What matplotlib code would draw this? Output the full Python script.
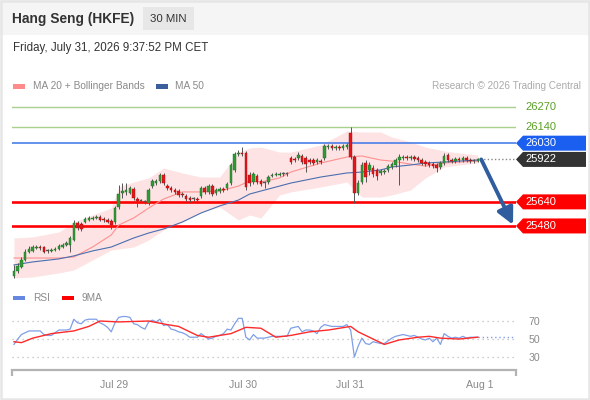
import matplotlib
matplotlib.use('Agg')
import matplotlib.pyplot as plt
import numpy as np
from matplotlib.patches import Rectangle, Polygon
from matplotlib.transforms import IdentityTransform

plt.rcParams['font.family'] = ['Liberation Sans', 'DejaVu Sans']

# ---------------- data ----------------
opens = [25148, 25181, 25208, 25254, 25307, 25314, 25334, 25340, 25340, 25314,
         25314, 25320, 25327, 25340, 25354, 25354, 25387, 25500, 25493, 25507,
         25520, 25527, 25533, 25540, 25527, 25520, 25513, 25507, 25606, 25699,
         25706, 25699, 25726, 25659, 25646, 25639, 25633, 25745, 25765, 25779,
         25818, 25745, 25732, 25719, 25712, 25692, 25679, 25666, 25659, 25659,
         25679, 25732, 25706, 25745, 25699, 25712, 25726, 25732, 25765, 25852,
         25958, 25965, 25965, 25818, 25772, 25812, 25779, 25765, 25772, 25812,
         25818, 25818, 25825, 25825, 25931, 25925, 25931, 25945, 25931, 25918,
         25918, 25905, 25911, 25931, 26004, 26011, 25998, 26004, 25998, 26004,
         26097, 25938, 25699, 25772, 25898, 25852, 25865, 25852, 25832, 25838,
         25852, 25872, 25885, 25918, 25931, 25938, 25931, 25938, 25931, 25918,
         25905, 25898, 25891, 25885, 25872, 25898, 25951, 25918, 25911, 25925,
         25918, 25931, 25918, 25911, 25911]
closes = [25181, 25214, 25254, 25307, 25327, 25340, 25340, 25334, 25307, 25314,
          25320, 25327, 25347, 25354, 25367, 25400, 25500, 25467, 25460, 25527,
          25533, 25533, 25540, 25520, 25520, 25507, 25487, 25599, 25692, 25712,
          25719, 25732, 25666, 25646, 25646, 25639, 25719, 25779, 25779, 25818,
          25765, 25732, 25719, 25706, 25686, 25686, 25659, 25652, 25659, 25652,
          25732, 25706, 25745, 25692, 25719, 25726, 25719, 25759, 25885, 25958,
          25965, 25958, 25739, 25765, 25825, 25772, 25759, 25765, 25805, 25818,
          25825, 25825, 25825, 25825, 25905, 25918, 25951, 25905, 25891, 25905,
          25898, 25918, 25905, 26011, 26011, 25998, 26004, 25998, 26011, 26018,
          25938, 25699, 25765, 25885, 25805, 25885, 25825, 25812, 25845, 25845,
          25878, 25891, 25918, 25938, 25938, 25931, 25938, 25925, 25918, 25898,
          25891, 25885, 25878, 25865, 25898, 25945, 25918, 25911, 25925, 25918,
          25931, 25918, 25911, 25911, 25922]
highs = [25221, 25234, 25274, 25327, 25347, 25354, 25354, 25354, 25347, 25327,
         25334, 25340, 25360, 25367, 25380, 25413, 25520, 25513, 25507, 25540,
         25547, 25547, 25553, 25553, 25540, 25533, 25527, 25613, 25752, 25765,
         25765, 25745, 25739, 25672, 25659, 25652, 25732, 25792, 25792, 25832,
         25832, 25759, 25745, 25732, 25726, 25706, 25692, 25679, 25672, 25672,
         25745, 25745, 25759, 25759, 25732, 25739, 25739, 25772, 25898, 25971,
         25984, 26004, 25978, 25838, 25838, 25825, 25792, 25779, 25818, 25832,
         25838, 25838, 25838, 25838, 25945, 25938, 25971, 25958, 25945, 25931,
         25931, 25931, 25925, 26024, 26024, 26024, 26018, 26018, 26024, 26031,
         26137, 25951, 25785, 25905, 25918, 25905, 25885, 25865, 25858, 25858,
         25891, 25905, 25931, 25958, 25951, 25951, 25951, 25951, 25945, 25931,
         25918, 25911, 25905, 25898, 25911, 25965, 25965, 25931, 25938, 25938,
         25945, 25945, 25931, 25925, 25931]
lows = [25135, 25168, 25201, 25247, 25300, 25307, 25327, 25320, 25300, 25300,
        25307, 25314, 25320, 25334, 25347, 25307, 25380, 25453, 25447, 25500,
        25513, 25520, 25527, 25513, 25507, 25500, 25460, 25493, 25593, 25666,
        25686, 25692, 25652, 25606, 25633, 25626, 25619, 25732, 25752, 25765,
        25752, 25719, 25706, 25692, 25672, 25672, 25646, 25639, 25646, 25633,
        25666, 25692, 25692, 25679, 25686, 25699, 25706, 25719, 25752, 25838,
        25945, 25945, 25719, 25745, 25759, 25759, 25745, 25732, 25759, 25805,
        25812, 25812, 25812, 25812, 25891, 25905, 25918, 25891, 25838, 25891,
        25885, 25891, 25891, 25918, 25991, 25984, 25984, 25984, 25984, 25991,
        25925, 25633, 25686, 25759, 25772, 25818, 25805, 25785, 25818, 25825,
        25838, 25858, 25872, 25752, 25918, 25918, 25918, 25911, 25905, 25885,
        25878, 25872, 25865, 25838, 25858, 25885, 25905, 25898, 25898, 25905,
        25905, 25905, 25898, 25898, 25905]

# indicator readings (sampled at candle indices)
ind_idx = [0, 5, 12, 16, 21, 26, 28, 32, 36, 40, 45, 50, 55, 60, 63, 66, 71, 74,
           82, 89, 93, 98, 101, 106, 110, 115, 119, 124]
ma20 = [25267, 25267, 25267, 25274, 25340, 25420, 25486, 25533, 25599, 25659,
        25706, 25706, 25712, 25745, 25779, 25772, 25799, 25838, 25898, 25938,
        25945, 25918, 25911, 25891, 25878, 25898, 25905, 25911]
bb_upper = [25400, 25407, 25440, 25506, 25553, 25599, 25739, 25772, 25799, 25865,
            25832, 25805, 25805, 25971, 25998, 26004, 25971, 25971, 26018, 26111,
            26104, 26104, 26071, 26038, 26004, 25978, 25965, 25951]
bb_lower = [25135, 25141, 25168, 25188, 25254, 25320, 25327, 25340, 25387, 25453,
            25506, 25573, 25606, 25520, 25553, 25533, 25686, 25706, 25739, 25772,
            25672, 25672, 25686, 25719, 25799, 25872, 25885, 25898]
ma50 = [25221, 25241, 25261, 25281, 25314, 25340, 25360, 25400, 25433, 25460,
        25506, 25566, 25613, 25652, 25692, 25712, 25745, 25765, 25805, 25832,
        25838, 25852, 25872, 25885, 25898, 25905, 25911, 25918]

rsi = [44, 50, 55, 57, 59, 59, 59, 59, 55, 54,
       54, 57, 60, 60, 60, 61, 72, 68, 67, 71,
       72, 72, 72, 68, 66, 63, 58, 68, 74, 75,
       75, 74, 67, 66, 63, 61, 69, 71, 69, 72,
       65, 66, 61, 60, 58, 57, 55, 52, 52, 52,
       56, 53, 50, 51, 53, 54, 56, 61, 60, 67,
       73, 73, 52, 49, 55, 51, 51, 51, 52, 53,
       53, 53, 53, 53, 62, 63, 64, 58, 60, 60,
       59, 56, 63, 66, 65, 64, 64, 64, 64, 66,
       60, 30, 42, 51, 45, 44, 47, 46, 45, 45,
       48, 51, 53, 54, 55, 54, 53, 54, 52, 50,
       49, 51, 47, 51, 44, 56, 53, 51, 52, 51,
       53, 51, 52, 52, 52]
ma9_idx = [0, 2, 5, 10, 16, 20, 23, 28, 36, 41, 44, 49, 52, 58, 62, 66, 70, 74,
           79, 84, 90, 92, 99, 103, 108, 111, 114, 119, 124]
ma9 = [47, 46, 51, 56, 59, 64, 70, 69, 70, 66, 64, 54, 52, 56, 63, 62, 52, 54,
       58, 60, 64, 58, 44, 49, 52, 53, 51, 50, 52]

date_pos = [26.7, 61.2, 89.8, 124.6]
date_labels = ['Jul 29', 'Jul 30', 'Jul 31', 'Aug 1']

resist_levels = [26270, 26140]
pivot_level = 26030
support_levels = [25640, 25480]
last_price = 25922
target_price = 25480
rsi_ticks = [30, 50, 70]

# ---------------- figure ----------------
W, H = 590, 400
fig = plt.figure(figsize=(W / 100, H / 100), dpi=100)
fig.patch.set_facecolor('white')


def fx(px):
    return px / W


def fy(py):
    return 1 - py / H


fig.add_artist(Rectangle((0, fy(35)), 1, 35 / H, transform=fig.transFigure,
                         facecolor='#f5f5f5', edgecolor='none', zorder=0))
fig.add_artist(Rectangle((fx(143), fy(30)), fx(51), 23 / H, transform=fig.transFigure,
                         facecolor='#e7e7e7', edgecolor='none', zorder=1))
fig.add_artist(Rectangle((0.002, 0.003), 0.996, 0.994, transform=fig.transFigure,
                         fill=False, edgecolor='#e6e6e6', lw=1.8, zorder=20))

fig.text(fx(12), fy(19), 'Hang Seng (HKFE)', fontsize=9.9, fontweight='bold',
         color='#333333', va='center', ha='left')
fig.text(fx(168.5), fy(19), '30 MIN', fontsize=8.2, color='#333333', va='center', ha='center')
fig.text(fx(13), fy(48), 'Friday, July 31, 2026 9:37:52 PM CET', fontsize=8.3,
         color='#333333', va='center', ha='left')

# main legend
fig.add_artist(Rectangle((fx(13), fy(88.5)), fx(12), 4.5 / H, transform=fig.transFigure,
                         facecolor='#ff8a8a', edgecolor='none'))
fig.text(fx(33), fy(86), 'MA 20 + Bollinger Bands', fontsize=7.3, color='#8a8a8a', va='center')
fig.add_artist(Rectangle((fx(156), fy(88.5)), fx(12), 4.5 / H, transform=fig.transFigure,
                         facecolor='#3b5e9c', edgecolor='none'))
fig.text(fx(175), fy(86), 'MA 50', fontsize=7.3, color='#8a8a8a', va='center')
fig.text(fx(581), fy(86), 'Research \u00a9 2026 Trading Central', fontsize=7.2,
         color='#aaaaaa', va='center', ha='right')

# ---------------- main axes ----------------
xmin, xmax = -0.53, 134.2
ax = fig.add_axes([fx(12), fy(283), fx(504), 188 / H])
ax.set_xlim(xmin, xmax)
ax.set_ylim(25101, 26350)
ax.axis('off')

idx = np.arange(len(closes))
o = np.array(opens, float)
c = np.array(closes, float)
hi = np.array(highs, float)
lo = np.array(lows, float)

ax.fill_between(ind_idx, bb_lower, bb_upper, color='#fde3e3', lw=0, zorder=1)
ax.plot(ind_idx, ma20, color='#ff9090', lw=0.8, zorder=2)
ax.plot(ind_idx, ma50, color='#4a6fb0', lw=0.8, zorder=2)

for v in resist_levels:
    ax.axhline(v, color='#a9d18e', lw=1.0, zorder=1.5)
ax.axhline(pivot_level, color='#4a7fe8', lw=1.2, zorder=1.5)
for v in support_levels:
    ax.axhline(v, color='#ff0000', lw=1.9, zorder=1.5)

ax.vlines(idx, lo, hi, color='#555555', lw=0.7, zorder=3)
body_bottom = np.minimum(o, c)
body_h = np.maximum(np.abs(c - o), 5)
colors = ['#2f9a36' if cc > oo else ('#e3161b' if cc < oo else '#555555')
          for oo, cc in zip(o, c)]
edges = ['#1f6f25' if cc > oo else ('#a01010' if cc < oo else '#555555')
         for oo, cc in zip(o, c)]
ax.bar(idx, body_h, bottom=body_bottom, width=0.68, color=colors,
       edgecolor=edges, lw=0.3, zorder=4)

ax.plot([idx[-1] + 0.5, xmax], [last_price, last_price], color='#888888',
        ls=(0, (1, 1.6)), lw=1.0, zorder=2)

ax.annotate('', xy=(idx[-1] + 9.4, target_price + 8), xytext=(idx[-1] + 0.9, last_price),
            arrowprops=dict(arrowstyle='-|>,head_length=1.0,head_width=0.5',
                            color='#2f5d9e', lw=2.8, mutation_scale=10,
                            shrinkA=0, shrinkB=0),
            annotation_clip=False, zorder=6)

# right labels
fig.canvas.draw()
x_tip = ax.transAxes.transform((1.0, 0))[0]


def tag(value, face, text_color='white'):
    yc = ax.transData.transform((0, value))[1]
    verts = [(x_tip, yc), (x_tip + 7, yc + 7.5), (x_tip + 70, yc + 7.5),
             (x_tip + 70, yc - 7.5), (x_tip + 7, yc - 7.5)]
    fig.add_artist(Polygon(verts, closed=True, transform=IdentityTransform(),
                           facecolor=face, edgecolor='none', zorder=10))
    fig.text((x_tip + 9) / W, yc / H, f'{value}', fontsize=8, color=text_color,
             va='center', ha='left', zorder=11)


for v in resist_levels:
    yc = ax.transData.transform((0, v))[1]
    fig.text((x_tip + 9) / W, yc / H, f'{v}', fontsize=8, color='#5aa025',
             va='center', ha='left')
tag(pivot_level, '#1a5ff0')
tag(last_price, '#333333')
for v in support_levels:
    tag(v, '#ff0000')

# ---------------- RSI axes ----------------
fig.add_artist(Rectangle((fx(13), fy(300.2)), fx(12), 4.5 / H, transform=fig.transFigure,
                         facecolor='#6688e0', edgecolor='none'))
fig.text(fx(33), fy(298), 'RSI', fontsize=7.3, color='#8a8a8a', va='center')
fig.add_artist(Rectangle((fx(62), fy(300.2)), fx(12), 4.5 / H, transform=fig.transFigure,
                         facecolor='#ff0000', edgecolor='none'))
fig.text(fx(82), fy(298), '9MA', fontsize=7.3, color='#8a8a8a', va='center')

ax2 = fig.add_axes([fx(12), fy(370), fx(504), 65 / H])
ax2.set_xlim(xmin, xmax)
ax2.set_ylim(15.6, 87.8)
for s in ['top', 'right', 'left']:
    ax2.spines[s].set_visible(False)
ax2.spines['bottom'].set_color('#b3b3b3')
ax2.spines['bottom'].set_linewidth(1.6)
ax2.set_facecolor('none')

for v in rsi_ticks:
    ax2.axhline(v, color='#bdbdbd', ls=(0, (1, 3)), lw=0.9, zorder=1)

ax2.plot(idx, rsi, color='#7f9fe8', lw=0.9, zorder=3)
ax2.plot(ma9_idx, ma9, color='#ff2a2a', lw=1.0, zorder=4)
ax2.plot([idx[-1], xmax], [rsi[-1], rsi[-1]], color='#7f9fe8', ls=(0, (1, 2)), lw=1.0, zorder=3)

ax2.set_xticks(date_pos)
ax2.set_xticklabels(date_labels)
ax2.set_xticks([xmin, xmax], minor=True)
ax2.tick_params(axis='x', which='major', length=0, pad=7, labelsize=7.6, labelcolor='#8a8a8a')
ax2.tick_params(axis='x', which='minor', length=4, width=1.6, color='#b3b3b3', direction='out')
ax2.yaxis.tick_right()
ax2.set_yticks(rsi_ticks)
ax2.set_yticklabels([str(t) for t in rsi_ticks])
ax2.tick_params(axis='y', length=0, pad=9, labelsize=7.6, labelcolor='#8a8a8a')

fig.savefig('out.png', dpi=100)
